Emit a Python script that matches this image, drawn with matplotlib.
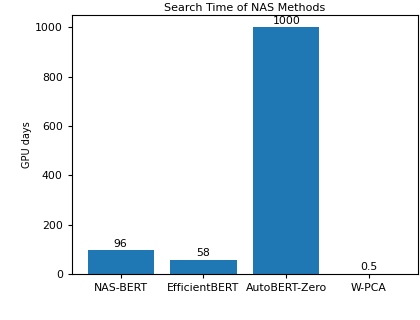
import matplotlib
matplotlib.use("Agg")
import matplotlib.pyplot as plt

methods = ["NAS-BERT", "EfficientBERT", "AutoBERT-Zero", "W-PCA"]
gpu_days = [96, 58, 1000, 0.5]
labels = ["96", "58", "1000", "0.5"]
yticks = [0, 200, 400, 600, 800, 1000]

fig = plt.figure(figsize=(4.2, 3.2), dpi=100)
ax = fig.add_axes([0.171, 0.144, 0.824, 0.809])
bars = ax.bar(methods, gpu_days, width=0.8, color="#1f77b4")
ax.bar_label(bars, labels=labels, fontsize=7.8, padding=1)
ax.set_yticks(yticks)
ax.tick_params(labelsize=7.8, length=3, width=0.8)
ax.set_ylabel("GPU days", fontsize=7, labelpad=2)
ax.set_title("Search Time of NAS Methods", fontsize=8, pad=3)

fig.savefig("out.png", dpi=100)
